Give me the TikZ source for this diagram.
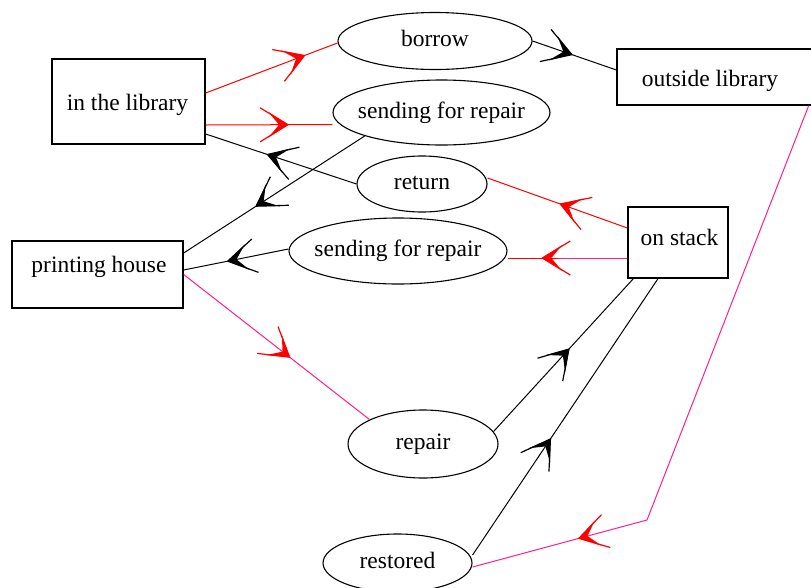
\documentclass[tikz,border=0pt]{standalone}
\usepackage{fontspec}
\setmainfont{Liberation Serif}
\usetikzlibrary{shapes.geometric,decorations.markings,calc}
\definecolor{edred}{RGB}{255,0,0}
\definecolor{edpink}{RGB}{255,30,140}
\newcommand\myarrowhd[1]{%
  \fill[#1] (0pt,0pt) -- (-20pt,13pt) -- (-9pt,0pt) -- (-20pt,-13pt) -- cycle;
  \draw[#1, line width=1.2pt, line join=round] (-28pt,17pt) -- (0pt,0pt) -- (-28pt,-17pt);}
\newcommand\zw[1]{\makebox[0pt]{#1}}
\tikzset{
  box/.style={draw, rectangle, line width=1.3pt, inner sep=0pt},
  oval/.style={draw, ellipse, line width=1.1pt, inner sep=0pt,
    font=\fontsize{23.5}{28}\selectfont, text height=16pt, text depth=5pt},
  lbl/.style={font=\fontsize{23.5}{28}\selectfont, anchor=base, inner sep=0pt},
  edge/.style={line width=1pt},
  ah/.style 2 args={postaction={decorate},
    decoration={markings, mark=at position #1 with {\myarrowhd{#2}}}}
}
\begin{document}
\begin{tikzpicture}[x=1pt,y=-1pt]
\useasboundingbox (0,0) rectangle (811,587);
% boxes
\node[box, minimum width=153pt, minimum height=85pt] (lib) at (128.5,101.5) {};
\node[lbl] (libt) at (127.5,110) {in the library};
\node[box, minimum width=195pt, minimum height=56pt] (out) at (714.5,77) {};
\node[lbl] (outt) at (710,86) {outside library};
\node[box, minimum width=100pt, minimum height=71pt] (os) at (678,242.5) {};
\node[lbl] (ost) at (679.5,245) {on stack};
\node[box, minimum width=171pt, minimum height=67pt] (ph) at (97.5,274.5) {};
\node[lbl] (pht) at (99,272) {printing house};
% ellipses
\node[oval, minimum width=194pt, minimum height=57pt] (borrow) at (435,41) {\zw{borrow}};
\node[oval, minimum width=217pt, minimum height=65pt] (sfr1) at (441.5,112.5) {\zw{sending for repair}};
\node[oval, minimum width=130pt, minimum height=56pt] (ret) at (422,184) {\zw{return}};
\node[oval, minimum width=218pt, minimum height=66pt] (sfr2) at (398,251) {\zw{sending for repair}};
\node[oval, minimum width=150pt, minimum height=68pt] (rep) at (423,444) {\zw{repair}};
\node[oval, minimum width=149pt, minimum height=58pt] (rest) at (397.5,563) {\zw{restored}};
% connectors
\draw[edge, edred, ah={0.75}{edred}] ([yshift=8.5pt]lib.east) -- ([yshift=-2pt]borrow.west);
\draw[edge, edred, ah={0.65}{edred}] ([yshift=-23.5pt]lib.east) -- ([yshift=-12pt]sfr1.west);
\draw[edge, ah={0.59}{black}] (ret.west) -- ([yshift=-32.5pt]lib.east);
\draw[edge, ah={0.6}{black}] (sfr1.197) -- ([yshift=21.5pt]ph.east);
\draw[edge, ah={0.58}{black}] ([yshift=2pt]sfr2.west) -- ([yshift=4.5pt]ph.east);
\draw[edge, edpink, ah={0.57}{edred}] (ph.east) -- (rep.north west);
\draw[edge, ah={0.54}{black}] (rep.10) -- ([xshift=6pt]os.south west);
\draw[edge, ah={0.42}{black}] ([yshift=8pt]rest.east) -- ([xshift=-20pt]os.south);
\draw[edge, edred, ah={0.48}{edred}] ([yshift=14.5pt]os.west) -- ([yshift=6pt]ret.east);
\coordinate (m10) at ($([yshift=-15.5pt]os.west)!0.58!([yshift=-7pt]sfr2.east)$);
\draw[edge, edpink] ([yshift=-15.5pt]os.west) -- (m10);
\draw[edge, edred, ah={0.31}{edred}] (m10) -- ([yshift=-7pt]sfr2.east);
\draw[edge, ah={0.47}{black}] (borrow.east) -- ([yshift=7pt]out.west);
\coordinate (bend) at (647,520);
\draw[edge, edpink, ah={0.824}{edred}] ([xshift=-4pt]out.south east) -- (bend) -- ([yshift=-4pt]rest.east);
\end{tikzpicture}
\end{document}
